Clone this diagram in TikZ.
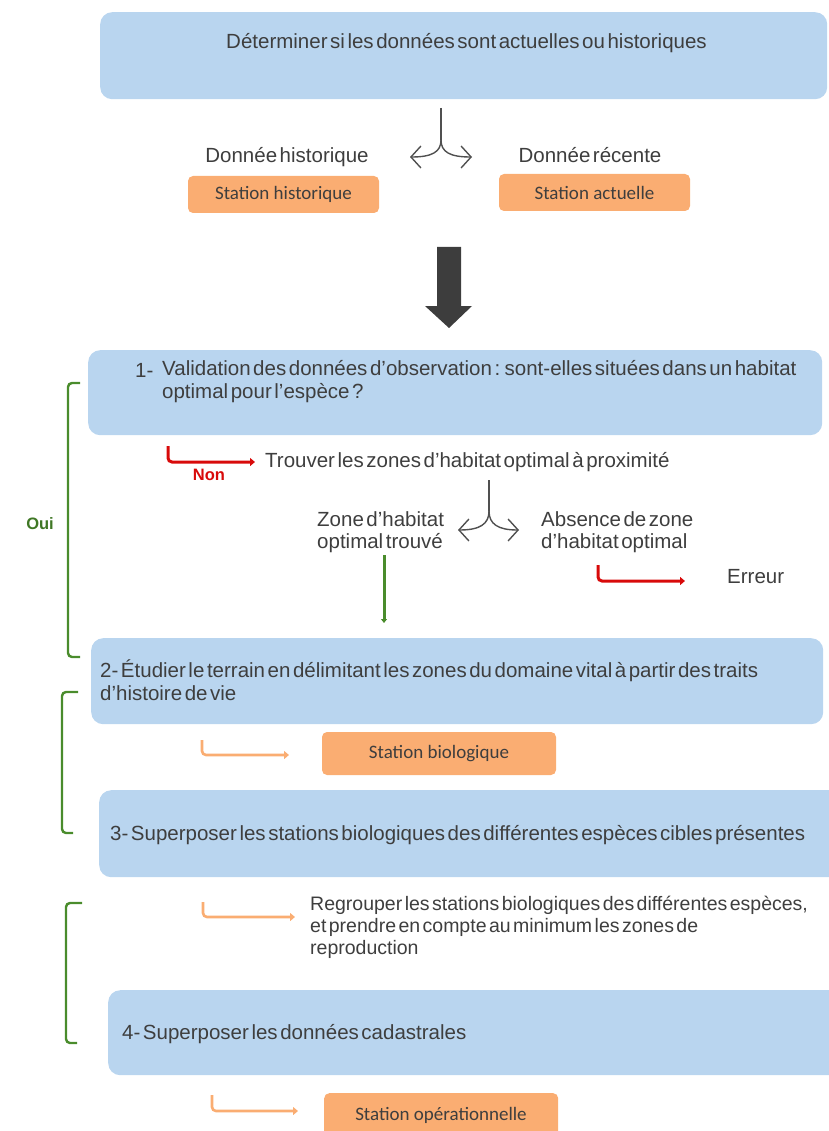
\documentclass[tikz,border=0pt]{standalone}
\usepackage{fontspec}
\setmainfont{Liberation Sans}[WordSpace=0.45]
\newfontfamily\calib{Carlito}
\usetikzlibrary{arrows.meta}
\definecolor{boxblue}{HTML}{B9D5EF}
\definecolor{boxorange}{HTML}{FAAD72}
\definecolor{txtgray}{HTML}{3E3E3E}
\definecolor{arrred}{HTML}{D80A0A}
\definecolor{brgreen}{HTML}{4A8C2C}
\definecolor{splitgray}{HTML}{505050}
\definecolor{bigarr}{HTML}{3D3D3D}
\begin{document}
\begin{tikzpicture}[x=1pt,y=-1pt,
  bluebox/.style={fill=boxblue, draw=none, rounded corners=12pt, anchor=north west, inner sep=0},
  orangebox/.style={fill=boxorange, draw=none, rounded corners=5pt, text=txtgray,
    font=\calib\fontsize{19}{22}\selectfont, inner sep=0},
  lbl/.style={font=\fontsize{20.5}{22.5}\selectfont, text=txtgray, inner sep=0, align=left},
  splitline/.style={draw=splitgray, line width=1.4pt},
  splitarr/.style={draw=splitgray, line width=1.4pt, -{Straight Barb[length=10pt,width=22pt]}},
  redarr/.style={draw=arrred, line width=3pt, rounded corners=4pt, -{Triangle[length=5pt,width=8pt]}},
  orarr/.style={draw=boxorange, line width=2.6pt, rounded corners=4pt, -{Triangle[length=5pt,width=8pt]}},
  grarr/.style={draw=brgreen, line width=3pt, -{Triangle[length=4pt,width=6pt]}},
  brack/.style={draw=brgreen, line width=2.4pt, rounded corners=4pt},
  tag/.style={font=\bfseries\fontsize{16.5}{18}\selectfont, inner sep=0}
]
\useasboundingbox (0,0) rectangle (828,1131);

% ---------- top ----------
\node[bluebox, minimum width=727, minimum height=87] (b0) at (100,12) {};
\node[lbl, anchor=west] (t0) at (226,43) {Déterminer si les données sont actuelles ou historiques};

\coordinate (s1a) at (441,108);
\coordinate (s1j) at (441,140);
\coordinate (s1l) at (410,157);
\coordinate (s1r) at (472,157);
\draw[splitline] (s1a) -- (s1j);
\draw[splitarr] (s1j) .. controls (441,152) and (432,157) .. (s1l);
\draw[splitarr] (s1j) .. controls (441,152) and (450,157) .. (s1r);

\node[lbl] (dh) at (287,157) {Donnée historique};
\node[lbl] (dr) at (590,155) {Donnée récente};
\node[orangebox, minimum width=191, minimum height=37] (sh) at (283.5,194.5) {Station historique};
\node[orangebox, minimum width=191, minimum height=37] (sa) at (594.5,192.5) {Station actuelle};

% big arrow
\fill[bigarr] (437,247) -- (461,247) -- (461,306) -- (472,306) -- (449,328) -- (425,306) -- (437,306) -- cycle;

% ---------- step 1 ----------
\node[bluebox, minimum width=734, minimum height=85] (b1) at (88,350) {};
\node[lbl, anchor=west] (n1) at (135,370) {1-};
\node[lbl, anchor=west] (t1) at (162,381.5) {Validation des données d’observation : sont-elles situées dans un habitat\\optimal pour l’espèce ?};

\coordinate (r1s) at (168,446);
\coordinate (r1e) at (255,462);
\draw[redarr] (r1s) |- (r1e);
\node[tag, text=arrred] (non) at (209,475) {Non};
\node[lbl, anchor=west] (t1b) at (265,462) {Trouver les zones d’habitat optimal à proximité};

\coordinate (s2a) at (489,480);
\coordinate (s2j) at (489,511);
\coordinate (s2l) at (458,530);
\coordinate (s2r) at (519,530);
\draw[splitline] (s2a) -- (s2j);
\draw[splitarr] (s2j) .. controls (489,524) and (480,530) .. (s2l);
\draw[splitarr] (s2j) .. controls (489,524) and (498,530) .. (s2r);

\node[lbl, anchor=west] (zf) at (317,532) {Zone d’habitat\\optimal trouvé};
\node[lbl, anchor=west] (za) at (541,532) {Absence de zone\\d’habitat optimal};

\coordinate (g1s) at (384,555);
\coordinate (g1e) at (384,623);
\draw[grarr] (g1s) -- (g1e);

\coordinate (r2s) at (598,565);
\coordinate (r2e) at (685,581);
\draw[redarr] (r2s) |- (r2e);
\node[lbl, anchor=west] (err) at (727,577) {Erreur};

% Oui bracket
\coordinate (o1) at (80,383);
\coordinate (o2) at (80,657);
\draw[brack] (o1) -- (68,383) -- (68,657) -- (o2);
\node[tag, text=brgreen!85!black] (oui) at (40,524) {Oui};

% ---------- step 2 ----------
\node[bluebox, minimum width=732, minimum height=86] (b2) at (91,638) {};
\node[lbl, anchor=west] (t2) at (100,680) {2- Étudier le terrain en délimitant les zones du domaine vital à partir des traits\\d’histoire de vie};

\coordinate (o3s) at (202,740);
\coordinate (o3e) at (289,755);
\draw[orarr] (o3s) |- (o3e);
\node[orangebox, minimum width=234, minimum height=43] (sb) at (439,753.5) {Station biologique};

\draw[brack] (78,692) -- (62,692) -- (62,833) -- (73,833);

% ---------- step 3 ----------
\node[bluebox, minimum width=745, minimum height=87] (b3) at (99,790) {};
\node[lbl, anchor=west] (t3) at (110,835) {3- Superposer les stations biologiques des différentes espèces cibles présentes};

\coordinate (o4s) at (203,902);
\coordinate (o4e) at (295,917);
\draw[orarr] (o4s) |- (o4e);
\node[lbl, anchor=west, font=\fontsize{19.5}{22}\selectfont] (t3b) at (310,927) {Regrouper les stations biologiques des différentes espèces,\\et prendre en compte au minimum les zones de\\reproduction};

\draw[brack] (82,903) -- (66,903) -- (66,1043) -- (77,1043);

% ---------- step 4 ----------
\node[bluebox, minimum width=735, minimum height=85] (b4) at (108,990) {};
\node[lbl, anchor=west] (t4) at (122,1034) {4- Superposer les données cadastrales};

\coordinate (o5s) at (212,1095);
\coordinate (o5e) at (298,1111);
\draw[orarr] (o5s) |- (o5e);
\node[orangebox, minimum width=234, minimum height=46, anchor=north west] (so) at (324,1093) {};
\node[font=\calib\fontsize{19}{22}\selectfont, text=txtgray, inner sep=0] (sot) at (441,1115) {Station opérationnelle};
\end{tikzpicture}
\end{document}
